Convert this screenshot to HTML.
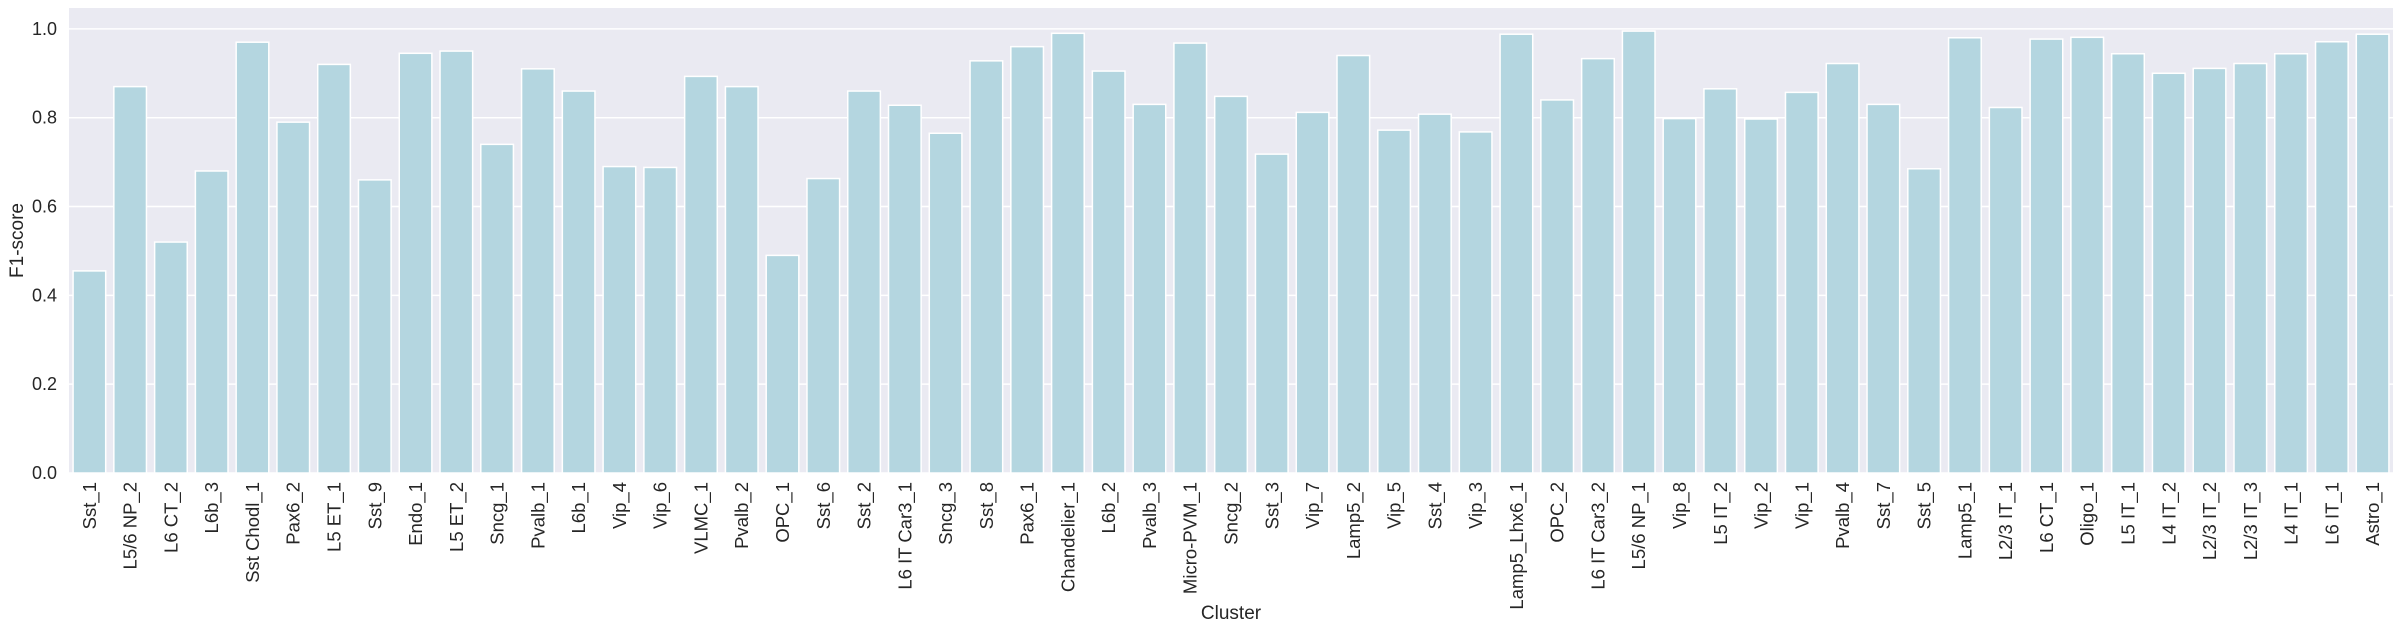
<!DOCTYPE html>
<html><head><meta charset="utf-8"><style>
body{margin:0;background:#fff;}
svg{display:block;font-family:"Liberation Sans","DejaVu Sans",sans-serif;}
</style></head><body>
<svg id="chart" width="2403" height="629" viewBox="0 0 2403 629"></svg>
<script>
const categories=["Sst_1","L5/6 NP_2","L6 CT_2","L6b_3","Sst Chodl_1","Pax6_2","L5 ET_1","Sst_9","Endo_1","L5 ET_2","Sncg_1","Pvalb_1","L6b_1","Vip_4","Vip_6","VLMC_1","Pvalb_2","OPC_1","Sst_6","Sst_2","L6 IT Car3_1","Sncg_3","Sst_8","Pax6_1","Chandelier_1","L6b_2","Pvalb_3","Micro-PVM_1","Sncg_2","Sst_3","Vip_7","Lamp5_2","Vip_5","Sst_4","Vip_3","Lamp5_Lhx6_1","OPC_2","L6 IT Car3_2","L5/6 NP_1","Vip_8","L5 IT_2","Vip_2","Vip_1","Pvalb_4","Sst_7","Sst_5","Lamp5_1","L2/3 IT_1","L6 CT_1","Oligo_1","L5 IT_1","L4 IT_2","L2/3 IT_2","L2/3 IT_3","L4 IT_1","L6 IT_1","Astro_1"];
const f1Values=[0.455,0.87,0.52,0.68,0.97,0.79,0.92,0.66,0.945,0.95,0.74,0.91,0.86,0.69,0.688,0.893,0.87,0.49,0.663,0.86,0.828,0.765,0.928,0.96,0.99,0.905,0.83,0.968,0.848,0.718,0.812,0.94,0.772,0.808,0.768,0.988,0.84,0.933,0.995,0.798,0.865,0.797,0.857,0.922,0.83,0.685,0.98,0.823,0.977,0.981,0.944,0.9,0.911,0.922,0.944,0.971,0.988];
const yTicks=[0.0,0.2,0.4,0.6,0.8,1.0];
const yTickLabels=["0.0","0.2","0.4","0.6","0.8","1.0"];

const svg=document.getElementById('chart');
const NS='http://www.w3.org/2000/svg';
const L=69,R=2393,T=8,B=473;
const yMax=1.047;
const y=v=>B-(v/yMax)*(B-T);
const band=(R-L)/categories.length;
const x=i=>L+band*i;
function mk(t,a){const e=document.createElementNS(NS,t);for(const k in a)e.setAttribute(k,a[k]);svg.appendChild(e);return e;}

const bg=mk('rect',{x:L,y:T,width:R-L,height:B-T,fill:'#eaeaf2'});



yTicks.forEach((v,i)=>{
  const g=mk('line',{x1:L,x2:R,y1:y(v),y2:y(v),stroke:'#fff','stroke-width':1.5});
  
  
  const t=mk('text',{x:57,y:y(v)+6,'text-anchor':'end','font-size':18,fill:'#262626'});
  t.textContent=yTickLabels[i];
  
  
});

categories.forEach((c,i)=>{
  const bw=band*0.8;
  const bx=x(i)+band*0.1;
  const r=mk('rect',{x:bx,y:y(f1Values[i]),width:bw,height:B-y(f1Values[i]),fill:'#b4d6e0',stroke:'#fff','stroke-width':1.5});
  
  
  const cx=x(i)+band/2;
  const t=mk('text',{x:0,y:0,'text-anchor':'end','font-size':18.5,fill:'#262626',transform:`translate(${cx+6.5},482) rotate(-90)`});
  t.textContent=c;
  
  
});

const xl=mk('text',{x:(L+R)/2,y:619,'text-anchor':'middle','font-size':19,fill:'#262626'});
xl.textContent='Cluster';


const yl=mk('text',{x:0,y:0,'text-anchor':'middle','font-size':19,fill:'#262626',transform:`translate(23,${(T+B)/2}) rotate(-90)`});
yl.textContent='F1-score';


</script>
</body></html>
